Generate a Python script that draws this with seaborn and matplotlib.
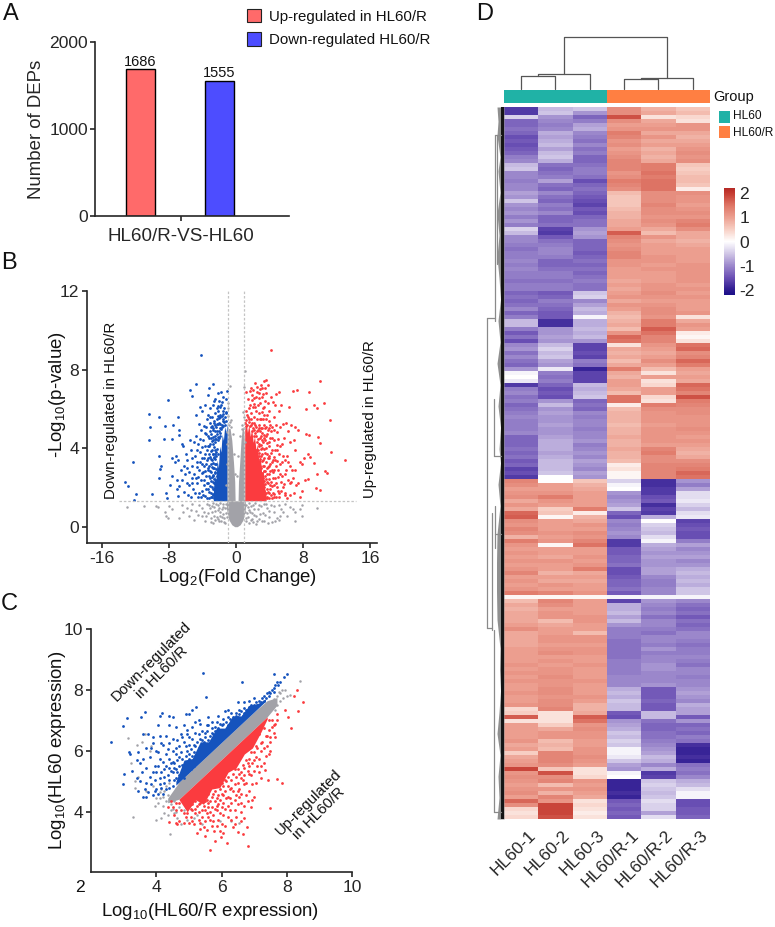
import numpy as np
import pandas as pd
import matplotlib
matplotlib.use("Agg")
import matplotlib.pyplot as plt
from matplotlib.colors import LinearSegmentedColormap, ListedColormap
from matplotlib.patches import Patch
from matplotlib.transforms import ScaledTranslation
import seaborn as sns

# ---------- panel A ----------
dep_groups = ["Up-regulated in HL60/R", "Down-regulated HL60/R"]
dep_counts = [1686, 1555]

# ---------- panel B: volcano, (log2 fold change, -log10 p) ----------
vol_down = [(-4.18,8.74),(-4.78,7.27),(-2.75,7.25),(-5.46,6.94),(-3.2,7.04),(-5.26,6.66),(-8.13,6.46),(-10.44,5.75),(-9.2,5.6),(-10.28,5.1),
(-8.45,5.12),(-7.49,5.2),(-6.9,5.56),(-10.36,4.4),(-8.65,4.45),(-7.65,4.45),(-6.8,4.9),(-6.8,4.68),(-12.3,3.3),(-9.2,3.6),(-13.3,2.3),(-12.87,2.07),
(-11.9,1.64),(-12.2,1.37),(-10.04,1.66),(-9.24,2.48),(-9.04,2.95),(-8.9,3.1),(-8.4,1.7),(-8.3,1.45),(-7.9,2.1),(-7.7,2.6),(-7.6,3.5),(-7.3,3.3),(-7.2,3.6),
(-7.1,2.4),(-7,1.9),(-6.9,3.4),(-6.8,2.05),(-6.6,2.9),(-6.4,4.2),(-6.3,4.1),(-6.2,3.1),(-6.1,2.7),(-6,3.7),(-5.9,2.2),(-5.8,3.4),(-5.7,1.6),(-5.6,2.8),(-5.5,4.4),
(-5.4,3.9),(-5.3,2.5),(-5.2,3.1),(-5.1,1.9),(-5,2.7),(-4.9,3.6),(-4.8,4.6),(-4.75,5.7),(-4.7,2.2),(-4.6,3.3),(-4.55,1.5),(-4.5,4.2),(-4.45,5.25),(-4.4,2.9),(-4.3,6.1),(-4.3,3.8),
(-4.2,2.4),(-4.15,4.9),(-4.1,3.5),(-4.05,1.8),(-4,5.9),(-3.95,2.8),(-3.9,4.4),(-3.85,3.1),(-3.8,2.1),(-3.8,5.15),(-3.75,6.2),(-3.7,3.7),(-3.65,1.55),(-3.6,4.7),(-3.55,2.6),(-3.5,3.4),
(-3.45,5.5),(-3.4,4.1),(-3.4,2.2),(-3.35,6.7),(-3.3,3),(-3.25,1.75),(-3.2,4.5),(-3.2,3.7),(-3.15,5.3),(-3.1,2.5),(-3.1,6.05),(-3.05,4.2),(-3,1.5),(-3,3.2),(-3,5.1),(-2.95,2.8),
(-2.95,4.7),(-2.9,3.9),(-2.9,2),(-2.85,5.6),(-2.85,3.4),(-2.8,6.2),(-2.8,4.4),(-2.8,1.65),(-2.75,2.6),(-2.75,3.7),(-2.7,5),(-2.7,3),(-2.7,4.2),(-2.65,6.4),(-2.65,2.2),(-2.6,5.4),(-2.6,3.5),(-2.6,1.45),
(-2.55,4.6),(-2.55,2.8),(-2.5,3.9),(-2.5,5.8),(-2.5,1.9),(-2.5,3.2),(-2.45,4.3),(-2.45,6.5),(-2.4,5.1),(-2.4,2.4),(-2.35,3.6),(-2.3,6.05),(-2.3,4.7),(-2.25,5.5),(-2.2,6.8),(-2.2,4.4),
(-2.1,5.9),(-2.05,6.4),(-2,5.3),(-1.95,4.6),(-1.9,6.1),(-1.85,5.7),(-1.8,6.85),(-1.7,5.2),(-1.65,6.35),(-1.6,5.9),(-1.55,5.5),(-1.5,6.6),(-1.4,6.05),(-1.3,5.6),(-1.25,6.5),(-1.15,5.8),(-1.1,6.9)]
vol_down_dense = [(-6.9,1.55),(-6.5,2.4),(-6.2,1.75),(-5.9,3),(-5.6,2.1),(-5.4,1.5),(-5.3,3.5),(-5.2,2.2),(-5,4.3),(-4.9,1.7),(-4.8,2.5),(-4.7,3.05),(-4.6,3.9),(-4.5,2.55),(-4.4,1.7),(-4.35,3.3),(-4.25,4.45),(-4.2,1.5),
(-4.1,2.75),(-4,3.2),(-4,4.05),(-3.9,1.6),(-3.85,2.4),(-3.8,3.5),(-3.75,4.75),(-3.7,2.85),(-3.65,4.1),(-3.6,1.9),(-3.6,3.2),(-3.55,5.1),(-3.5,2.25),(-3.5,3.9),(-3.45,1.45),(-3.4,2.9),(-3.4,4.6),(-3.35,3.5),(-3.3,1.9),(-3.3,5.7),
(-3.25,2.6),(-3.25,4.1),(-3.2,3.1),(-3.2,1.45),(-3.15,4.85),(-3.1,2.05),(-3.1,3.55),(-3.05,2.85),(-3.05,5.6),(-3,3.85),(-3,2.35),(-3,4.5),(-2.95,1.7),(-2.95,3.45),(-2.9,2.55),(-2.9,4.35),(-2.85,3.05),(-2.85,5.15),(-2.85,1.5),
(-2.8,3.7),(-2.8,2.3),(-2.8,4.9),(-2.75,1.9),(-2.75,3.25),(-2.7,2.65),(-2.7,4.55),(-2.7,1.6),(-2.65,3.55),(-2.65,5.3),(-2.6,2.45),(-2.6,4.05),(-2.6,3),(-2.55,1.75),(-2.55,4.85),(-2.55,3.7),(-2.5,2.2),(-2.5,2.75),(-2.5,4.45),
(-2.45,1.5),(-2.45,3.45),(-2.45,5.2),(-2.4,2.95),(-2.4,3.8),(-2.4,1.85),(-2.35,4.45),(-2.35,3.2),(-2.3,5.25),(-2.3,3.95),(-2.3,2.6),(-2.25,4.85),(-2.2,3.7),(-2.2,5.65),(-2.15,4.55),(-2.1,5.25),(-2.1,6.15),(-2.05,4.85),(-2,5.55),(-2,4.5),
(-1.95,5.05),(-1.9,5.6),(-1.9,4.75),(-1.85,5.25),(-1.8,6.2),(-1.75,4.95),(-1.7,5.65),(-1.65,5.1),(-1.6,5.4),(-1.5,5.15),(-1.5,5.75),(-1.4,5.35),(-1.3,5.2),(-1.25,5.85),(-1.15,5.4)]
vol_up = [(4.14,8.99),(10,7.42),(10.48,6.29),(9.36,6.18),(9.68,6.03),(8.69,6.87),(7.29,6.94),(6.81,6.89),(11.2,5.41),(8.37,5.98),(9.84,4.55),(10,4.27),(11.35,3.81),(13.03,3.38),
(8.6,3.7),(8.8,3.53),(9.28,3.25),(9.68,2.7),(10.6,2.83),(10.88,2.75),(9.6,1.95),(10,1.87),(8.57,2.45),(8.29,2.37),(8.4,4.7),(8.7,4.65),(8.1,3.5),(7.9,3.2),(7.6,3.3),(7.4,4.9),(7.1,5.1),(7,3.9),
(6.9,4.4),(6.8,2.5),(7.9,1.8),(7.7,1.5),(7.4,2.2),(7.1,2.9),(6.9,1.7),(6.6,5.2),(6.5,4.3),(6.5,3.1),(6.4,2.2),(6.3,6.1),(6.2,4.85),(6.1,3.6),(6,5.3),(5.9,2.7),(5.8,1.6),(5.7,4.5),(5.6,5.25),(5.5,3.3),
(5.4,6.2),(5.4,2.3),(5.3,4.1),(5.2,5.9),(5.1,3.7),(5.1,6.85),(5,1.8),(5,2.9),(4.9,4.8),(4.8,6.75),(4.8,5.2),(4.7,3.4),(4.7,6.2),(4.6,2.1),(4.6,4.4),(4.5,5.6),(4.5,1.5),(4.4,2.8),(4.4,6.35),(4.3,3.9),
(4.25,5.1),(4.2,6.6),(4.2,2.3),(4.1,4.5),(4.1,3.2),(4,1.7),(4,5.9),(3.95,2.7),(3.9,4.1),(3.9,5.4),(3.85,7.2),(3.8,3.5),(3.8,6.3),(3.75,1.5),(3.7,4.7),(3.7,2.3),(3.65,3),(3.6,5.1),(3.6,7.45),(3.55,4),
(3.5,6.4),(3.45,2.6),(3.4,3.5),(3.4,1.8),(3.35,5.7),(3.3,4.5),(3.3,7.4),(3.25,2.1),(3.2,3.1),(3.2,6.05),(3.15,5),(3.1,1.5),(3.1,4),(3.05,6.6),(3,2.6),(3,5.5),(3,3.6),(3,7.2),(2.95,4.6),(2.9,1.9),
(2.9,6.3),(2.85,3.1),(2.8,5.2),(2.8,4.1),(2.75,6.8),(2.7,2.3),(2.7,5.8),(2.7,3.6),(2.65,4.9),(2.6,1.6),(2.6,6.2),(2.6,2.9),(2.55,7.1),(2.5,5.5),(2.5,4.3),(2.45,3.4),(2.4,6.6),(2.4,5.9),(2.4,2.1),(2.35,3.9),
(2.3,5.2),(2.3,6.1),(2.25,7.3),(2.2,4.6),(2.2,6.55),(2.1,5.6),(2.05,6.95),(2,6.1),(1.95,5.3),(1.9,6.45),(1.85,7.05),(1.8,5.8),(1.7,6.2),(1.65,6.9),(1.6,5.5),(1.5,6.05),(1.45,6.5),(1.3,5.7),(1.25,6.85),(1.15,5.9),
(3.3,2),(3.5,1.45),(3.7,1.9),(4.3,1.45),(4.8,2.2),(5.2,1.5),(5.6,2),(6.1,1.45),(5.3,2.7),(4.1,2.1),(3.9,3.1),(4.4,3.4),(4.9,3.9),(5.5,4.2),(6.2,2.4),(5.9,3.4),(6.7,2.9),(7.2,2.1)]
vol_up_dense = [(2.5,1.4),(2.55,1.9),(2.6,2.4),(2.6,3.3),(2.65,3.9),(2.65,4.45),(2.7,1.75),(2.7,2.85),(2.7,4.2),(2.75,3.35),(2.75,5.05),(2.8,1.45),(2.8,2.5),(2.8,3.75),(2.85,4.5),(2.85,2),(2.85,5.5),(2.9,2.85),(2.9,3.45),(2.9,4.85),
(2.95,1.6),(2.95,2.3),(2.95,4.15),(3,3),(3,3.95),(3,5.05),(3,1.9),(3.05,2.75),(3.05,4.4),(3.05,5.85),(3.1,3.35),(3.1,2.15),(3.1,4.75),(3.15,1.75),(3.15,3.7),(3.2,2.5),(3.2,4.3),(3.2,5.5),(3.25,3.4),(3.25,1.45),
(3.3,2.85),(3.3,3.95),(3.3,5.2),(3.35,2.35),(3.35,4.65),(3.4,1.55),(3.4,3.1),(3.4,6.1),(3.45,3.75),(3.45,5.05),(3.5,2.15),(3.5,4.4),(3.5,2.85),(3.55,1.7),(3.55,5.5),(3.6,3.3),(3.6,2.45),(3.6,4.6),(3.65,1.45),(3.7,3.7),
(3.7,5.7),(3.75,2.7),(3.75,4.25),(3.8,1.75),(3.8,3.05),(3.85,4.9),(3.85,2.2),(3.9,3.6),(3.9,1.45),(3.95,5.05),(4,2.45),(4,3.5),(4,4.3),(4.05,1.9),(4.1,2.85),(4.1,5.2),(4.15,3.75),(4.2,1.6),(4.2,4.85),(4.25,2.9),
(4.3,2.05),(4.3,3.3),(4.35,4.5),(4.4,1.7),(4.45,2.5),(4.5,3.55),(4.5,4.9),(4.55,2.9),(4.6,1.65),(4.65,3.9),(4.7,2.5),(4.75,1.5),(4.8,3.1),(4.85,4.15),(4.9,2),(4.95,3.35),(5,4.45),(5.05,2.55),(5.15,1.7),(5.25,3.2),
(5.3,5.1),(5.4,1.8),(5.5,2.6),(5.6,3.6),(5.75,2.15),(5.9,1.7),(6,2.9),(6.2,3.3),(6.4,1.6),(6.6,2.3),(2.05,5.05),(2.15,5.3),(2.2,4.9),(2.3,4.75),(2.4,4.6),(2.4,5.1),(2.5,4.85),(1.95,4.85),(1.85,5.2),(1.75,5.5),
(1.65,5.15),(1.55,5.35),(1.45,5.6),(1.35,5.2),(1.25,5.45),(1.2,5.15),(1.1,5.3),(2.1,6.25),(2.5,6.85),(2.9,7.0),(3.1,7.05),(3.45,7.05),(1.95,6.7),(2.7,6.55),(3.25,6.75),(3.55,6.8)]
vol_ns = [(1.1,7.95),(-0.75,7.15),(0.9,7.1),(-1,6.3),(-0.95,6.05),(0.85,5.85),(-0.9,5.65),(1.0,5.6),(-0.6,5.45),(0.75,5.2),(-0.85,5.2),(0.95,5.05),
(-13.0,1.0),(-11.0,1.05),(-9.6,1.05),(-9.3,0.98),(-8.5,0.75),(-8.4,0.55),(-8.1,0.45),(-8,1.05),(-7.7,0.9),(-6.8,0.45),(-6.5,1.1),(-6.3,0.75),(-5.8,0.95),(-5.6,0.55),(-5.2,1.15),(-5,0.35),(-4.8,0.8),(-4.4,1.1),
(-4.1,0.55),(-4,0.95),(-3.7,0.3),(-3.5,1.15),(-3.3,0.7),(-3,0.45),(-2.9,1.05),(-2.7,0.2),(-2.5,0.8),(-2.3,0.5),(-2.1,1.1),(-2,0.3),(-1.9,0.75),(-1.7,0.5),(-1.5,1),(-1.4,0.25),(-1.2,0.7),
(1.2,0.45),(1.4,1),(1.5,0.2),(1.7,0.75),(1.9,0.4),(2,1.1),(2.2,0.6),(2.4,0.15),(2.6,0.9),(2.8,0.4),(3,1.05),(3.2,0.7),(3.4,0.3),(3.7,0.95),(3.9,0.5),(4.2,1.1),(4.3,0.25),(4.6,0.75),(4.9,0.45),(5.1,1.1),(5.2,0.35),(5.4,0.9),(5.8,1.15),
(6.1,0.55),(6.5,1),(6.8,0.9),(7,0.3),(7.1,0.75),(7.6,0.9),(7.9,0.55),(9.7,0.95),(7.9,1.1),(5.3,0.55),(3.6,1.15),(-2.6,0.55),(-3.8,0.75),(-5.4,0.85),
(-3.1,0.95),(-2.85,0.75),(-2.75,1.2),(-2.6,1.0),(-2.45,0.35),(-2.35,1.15),(-2.2,0.85),(-2.15,0.4),(-2,0.95),(-1.95,0.55),(-1.85,1.2),(-1.8,0.3),(-1.7,0.9),(-1.6,1.15),(-1.55,0.65),(-1.45,0.45),(-1.35,0.95),(-1.3,0.2),(-1.2,1.15),(-1.1,0.5),(-1.05,0.95),
(1.05,0.75),(1.15,1.1),(1.25,0.3),(1.35,0.7),(1.45,0.5),(1.55,1.2),(1.6,0.85),(1.75,0.35),(1.85,1.05),(1.95,0.7),(2.05,0.25),(2.15,0.9),(2.3,1.2),(2.45,0.55),(2.55,0.3),(2.7,1.1),(2.9,0.65),(3.1,0.3),(3.3,1.15),(3.5,0.6),(3.8,0.2),(4,0.8),
(-4.5,0.6),(-3.6,0.55),(-3.2,1.1),(-2.95,0.25),(4.5,1.05),(4.7,0.3),(5.6,0.75),(-1.15,2.1),(-1.12,3.2),(-1.1,4.2),(-1.05,4.8),(-0.4,4.7),(-0.25,3.7),(-0.1,2.7),(0.15,2.6),(0.3,3.6),(0.5,4.6),(1.05,4.3),(-0.55,5.1),(0.7,4.95),(-0.75,5.35)]
vol_up_core_x = [1.04, 1.2, 1.37, 1.54, 1.71, 1.88, 2.05, 2.22, 2.39, 2.56, 2.73, 2.9, 3.07, 3.24, 3.41, 3.6]
vol_up_core_top = [4.9, 5.4, 4.8, 5.2, 4.6, 5.0, 4.3, 4.6, 3.9, 4.2, 3.3, 3.6, 2.7, 2.9, 2.0, 1.6]
vol_down_core_x = [-2.7, -2.55, -2.4, -2.25, -2.1, -1.95, -1.8, -1.65, -1.5, -1.35, -1.2, -1.05]
vol_down_core_top = [1.9, 2.6, 2.3, 3.4, 3.0, 4.1, 3.8, 4.7, 4.4, 5.1, 4.8, 5.3]
vol_core_y = [0.0, 0.1, 0.35, 0.7, 1.0, 1.32]
vol_core_halfwidth = [0.15, 0.5, 0.85, 1.05, 1.15, 1.1]
vol_wing_y = [1.3, 2.3, 3.3, 4.4, 5.0]
vol_wing_left_outer = [-1.05, -1.08, -1.08, -1.05, -0.95]
vol_wing_left_inner = [-0.1, -0.15, -0.3, -0.5, -0.7]
vol_wing_right_inner = [0.25, 0.3, 0.45, 0.6, 0.75]
vol_wing_right_outer = [1.04, 1.04, 1.04, 1.0, 0.9]

# ---------- panel C: expression scatter, (HL60/R, HL60) ----------
ma_down = [(2.61,6.28),(2.98,6.81),(3.1,7.08),(3.53,7.1),(3.64,7.29),(4.17,7.26),(3,5.24),(2.97,4.9),(3.18,5.95),(3.2,5.9),(5.43,8.55),(5.53,7.77),(6.62,8.27),(7.61,8.51),(8,8.54),(7.93,8.42),(7.78,8.27),
(7.74,8.16),(7.61,8.05),(5.22,7.44),(5.1,7.35),(4.1,7.15),(4.4,7.15),(4.5,7.12),(4.9,7.2),(5,7.2),(4.05,6.85),(4.4,6.85),(4.6,6.8),(3.6,6.55),(3.75,6.55),(3.9,6.45),(4.1,6.5),(4.3,6.5),(4.85,6.85),(4.95,6.7),
(5.6,7.1),(5.7,6.95),(5.9,7.15),(6.1,7.3),(6.2,7.35),(6.5,7.6),(6.7,7.6),(6.85,7.65),(7,7.75),(7.3,7.8),(7.4,7.9),(7.45,7.8),(3.45,5.95),(3.5,5.6),(3.6,5.75),(3.7,5.45),(3.8,5.8),(3.85,6.1),(3.95,5.5),(4,6.0),(4.1,5.75),
(4.15,6.25),(4.25,5.4),(4.3,5.9),(4.4,6.25),(4.45,5.6),(4.5,6.0),(4.6,5.4),(4.65,6.35),(4.7,5.8),(4.75,6.55),(4.8,5.55),(4.9,6.15),(5,6.45),(5,5.9),(5.1,6.8),(5.15,6.2),(5.3,6.55),(5.35,6.9),(5.4,6.35),(5.5,6.6),(5.55,6.85),
(5.7,6.6),(5.8,6.8),(5.95,6.9),(6.05,7.05),(6.2,7.1),(6.3,7.25),(6.45,7.25),(6.55,7.35),(6.7,7.4),(6.85,7.45),(3.5,5.0),(3.6,4.5),(3.65,4.75),(3.75,4.65),(3.85,4.9),(3.9,4.55),(4,5.3),(4,4.75),(4.1,5.1),(4.2,4.6),(4.25,4.95),
(4.35,5.2),(4.4,4.8),(4.5,5.3),(4.55,5.05),(3.4,5.7),(3.25,5.35),(3.4,5.1),(3.45,4.7),(4.7,5.2),(4.9,5.35),(4.85,5.1),(3.7,6.1),(3.9,6.25),(4.05,5.95),(4.2,6.2),(4.45,5.35),(4.55,5.6),(4.8,5.25),(5.05,5.65),(5.2,5.85)]
ma_down_dense = [(4.3,4.75),(4.4,5.05),(4.5,4.85),(4.55,5.45),(4.6,5.1),(4.65,5.7),(4.7,5.5),(4.75,5.95),(4.75,5.15),(4.8,5.75),(4.85,5.4),(4.85,6.3),(4.9,5.6),(4.9,5.85),(4.95,5.3),(4.95,6),(5,5.5),(5,5.75),(5,6.2),(5.05,5.4),
(5.05,6.05),(5.1,5.6),(5.1,5.85),(5.1,6.4),(5.15,5.5),(5.15,5.95),(5.2,6.15),(5.2,6.6),(5.25,5.7),(5.25,6.3),(5.3,5.85),(5.3,6.1),(5.35,6.4),(5.35,5.75),(5.4,6.15),(5.4,6.65),(5.45,5.95),(5.45,6.3),(5.5,6.05),(5.5,6.45),
(5.55,6.2),(5.55,6.65),(5.6,6.35),(5.6,6.85),(5.65,6.15),(5.65,6.5),(5.7,6.75),(5.75,6.4),(5.75,6.55),(5.8,6.3),(5.8,6.65),(5.85,6.95),(5.9,6.5),(5.9,6.75),(5.95,6.6),(6,6.85),(6,6.65),(6.05,6.9),(6.1,6.7),(6.15,6.95),
(6.2,6.85),(6.25,7.05),(6.3,6.95),(6.35,7.1),(6.4,7.05),(6.45,7.15),(6.5,7.1),(6.55,7.2),(6.6,7.3),(6.65,7.15),(6.7,7.25),(6.75,7.35),(6.8,7.3),(6.85,7.4),(6.9,7.5),(6.95,7.4),(7,7.5),(7.05,7.6),(7.1,7.5),(7.15,7.65),
(7.2,7.6),(7.25,7.75),(7.3,7.65),(7.35,7.75),(7.45,7.95),(7.5,7.9),(7.55,8),(7.6,7.95),(7.65,8.15),(7.7,8.25),(3.55,5.3),(3.7,4.95),(3.8,5.15),(3.9,5.3),(3.95,5.05),(4.05,5.5),(4.1,4.9),(4.15,5.3),(4.2,5.65),(4.25,5.15),
(4.3,5.5),(4.35,6.05),(4.4,5.45),(4.4,5.75),(4.5,5.65),(4.6,5.9),(4.7,6.15),(4.6,6.1),(4.5,6.4),(4.8,6.45),(4.95,6.55),(5.2,6.95),(5.3,7.0),(4.65,5.3),(4.15,4.8),(4.05,4.6),(3.7,4.5),(3.95,4.7)]
ma_up = [(5.65,2.74),(6.82,2.89),(6.16,2.99),(5.99,3.17),(5.94,3.36),(5.76,3.37),(6.5,3.34),(6.65,3.29),(6.78,3.5),(7.49,4.14),(7.85,4.95),(7.69,5.09),(7.44,5.04),(7.34,5.37),(8.51,7.59),(8.31,8.0),(8.23,7.81),(8.33,7.31),(8.12,6.74),
(8.05,7.1),(7.95,7.35),(7.7,7.2),(7.65,6.9),(7.5,6.45),(7.35,5.85),(7.5,6),(7.2,5.1),(7,4.5),(6.9,4.15),(6.95,4.4),(6.7,3.8),(6.6,4.0),(6.5,4.25),(6.45,3.85),(6.3,3.75),(6.2,4.2),(6.1,3.55),(6.05,3.9),(5.9,3.75),
(5.8,4.1),(5.7,3.55),(5.55,3.95),(5.45,3.5),(5.3,3.75),(5.15,3.6),(5,3.65),(4.85,3.65),(4.7,3.7),(4.9,3.85),(5.2,3.95),(5.4,4.05),(4.4,3.68),(4.6,4.05),(4.5,4.15),(4.7,4.3),(4.9,4.15),(5.1,4.05),(5.3,4.25),(5.6,4.3),(5.85,4.45),
(6,4.6),(6.2,4.5),(6.3,4.8),(6.5,4.7),(6.6,5.1),(6.7,4.9),(6.85,5.25),(6.8,5.6),(7,5.7),(7.1,5.5),(7.2,6),(7.25,6.3),(7.4,6.5),(7.55,6.8),(7.6,6.6),(6.4,5.4),(6.15,5.0),(6.05,4.85),(5.75,4.6),(5.5,4.35),(6.9,5.95),(7.05,6.15),
(6.4,4.4),(6.55,4.5),(6.7,4.2),(6.85,4.7),(5.95,3.95),(6.25,4.05),(7.15,6.55),(7.3,6.75),(7.45,7.0),(6.95,6.35),(6.7,5.45),(6.55,5.25),(6.25,4.75),(5.85,4.2),(5.65,4.0),(5.25,4.45),(5.05,4.3),(6.35,3.5),(6.05,3.3),(5.8,3.05)]
ma_up_dense = [(4.75,4.05),(4.85,4.3),(4.95,3.95),(5,4.45),(5.05,4.1),(5.1,4.25),(5.15,4.5),(5.2,4.1),(5.2,4.35),(5.3,4.0),(5.3,4.55),(5.35,4.3),(5.4,4.45),(5.4,3.85),(5.45,4.2),(5.5,4.55),(5.5,4.05),(5.55,4.4),(5.6,4.15),(5.6,4.6),
(5.65,3.75),(5.65,4.35),(5.7,4.5),(5.7,4.15),(5.75,4.85),(5.75,3.9),(5.8,4.35),(5.8,4.7),(5.85,4.05),(5.85,4.9),(5.9,4.55),(5.9,4.25),(5.95,4.75),(5.95,4.4),(6,4.15),(6,4.95),(6.05,4.55),(6.05,4.3),(6.1,5.05),(6.1,4.7),
(6.1,4.1),(6.15,4.45),(6.2,4.85),(6.2,5.15),(6.25,4.45),(6.3,5.05),(6.3,4.3),(6.35,4.7),(6.35,5.25),(6.4,4.9),(6.45,5.15),(6.45,4.55),(6.5,5.4),(6.5,4.95),(6.55,4.75),(6.6,5.3),(6.6,4.6),(6.65,5.55),(6.65,5.05),(6.7,5.2),
(6.75,5.7),(6.75,4.95),(6.8,5.35),(6.85,5.75),(6.85,5.5),(6.9,5.2),(6.95,5.6),(7,5.95),(7,5.35),(7.05,5.8),(7.1,6.1),(7.15,5.75),(7.2,6.25),(7.2,5.5),(7.3,6.1),(7.35,6.5),(7.4,6.15),(7.45,6.7),(7.5,6.3),(7.55,7.0),
(7.6,6.85),(7.65,6.45),(7.7,7.0),(4.6,4.3),(4.55,3.9),(4.35,4.15),(4.45,4.35),(4.65,3.6),(4.85,3.95),(5.05,3.85),(5.1,3.7),(5.25,4.2),(5.35,3.65),(5.5,3.7),(5.6,3.85),(5.75,3.7),(5.55,3.4),(6,3.6),(6.2,3.85),(6.4,4.05),
(6.6,4.3),(6.8,4.35),(6.75,4.55),(7.05,4.95),(7.3,5.6),(7.15,5.3),(6.95,4.9),(7.45,5.9),(5.35,3.45),(6.6,3.7),(6.4,3.6),(5.85,3.55),(5.25,3.3),(5.5,3.2),(4.6,3.65)]
ma_ns = [(8.41,8.29),(3.29,3.83),(4.43,3.29),(3.13,6.43),(3.65,6.55),(3.4,6.2),(3.55,6.3),(3.85,6.15),(3.8,6.0),(3.22,5.62),(3.45,5.15),(3.35,5),(3.35,4.78),(3.7,4.7),(3.9,4.85),(4,4.45),(4.1,4.65),(4.2,4.2),(4.3,4.35),
(4.15,4.75),(4.25,3.95),(4.35,3.9),(4,3.75),(4.15,3.8),(4.55,3.95),(4.65,3.8),(4.75,3.6),(4.95,3.75),(5.15,3.8),(5.25,3.9),(5.95,3.7),(6.3,3.7),(4.6,4.0),(4.85,4.05),(5.4,3.6),(6.55,3.65),(7.85,8.0),(8,7.8),(7.75,7.95),(8.1,7.85),(7.5,7.6),
(4.05,4.3),(4.1,4.45),(4.2,4.5),(4.25,4.7),(4.3,4.85),(4.35,4.55),(4.4,4.95),(4.45,4.25),(4.5,4.5),(4.5,4.1),(4.55,4.35),(4.6,4.75),(4.65,4.5),(7.6,7.7),(7.7,7.8),(7.8,7.65),(7.9,7.75),(7.65,7.35),(7.55,7.4),(7.7,7.5),(7.4,7.2),(7.8,7.9),(7.95,8.0),(3.95,4.2),(4.45,4.05),(4.7,4.15)]
ma_x = [4.35, 4.7, 5.0, 5.5, 6.0, 6.5, 7.0, 7.4, 7.7]
ma_ns_low = [4.3, 4.42, 4.72, 5.22, 5.72, 6.22, 6.72, 7.12, 7.5]
ma_ns_high = [4.45, 4.98, 5.28, 5.78, 6.28, 6.78, 7.28, 7.65, 7.75]
ma_down_x = [4.6, 4.85, 5.1, 5.35, 5.6, 5.85, 6.1, 6.35, 6.6, 6.85, 7.1, 7.35]
ma_down_low = [4.88, 5.13, 5.38, 5.63, 5.88, 6.13, 6.38, 6.63, 6.88, 7.13, 7.38, 7.63]
ma_down_high = [5.0, 5.7, 5.75, 6.3, 6.3, 6.75, 6.75, 7.15, 7.15, 7.5, 7.55, 7.7]
ma_up_x = [4.7, 4.95, 5.2, 5.45, 5.7, 5.95, 6.2, 6.45, 6.7, 6.95, 7.2, 7.4]
ma_up_high = [4.42, 4.67, 4.92, 5.17, 5.42, 5.67, 5.92, 6.17, 6.42, 6.67, 6.92, 7.12]
ma_up_low = [4.4, 4.0, 4.4, 4.25, 4.75, 4.8, 5.3, 5.45, 5.9, 6.1, 6.6, 7.05]

# ---------- panel D: z-scored abundance, one list per heatmap band ----------
samples = ["HL60-1", "HL60-2", "HL60-3", "HL60/R-1", "HL60/R-2", "HL60/R-3"]
z_upper = [
[-1.7,-.6,-.5,1.2,.8,.6],[-1.7,-.5,-.9,1.2,.9,.7],[-.4,-.9,-1.3,1.8,.3,.4],[-1.3,-1.0,-1.1,1.2,.9,.3],[-1.3,-1.1,-.8,1.0,1.0,1.1],[-1.2,-1.0,-.7,1.1,1.1,1.1],
[-1.3,-.7,-1.0,1.4,.9,.9],[-1.5,-.8,-1.1,1.3,1.1,.8],[-1.4,-.7,-1.2,1.1,.9,.9],[-1.5,-.6,-1.0,1.2,1.0,1.0],[-1.4,-.8,-1.2,1.0,.8,1.1],[-1.3,-.6,-1.1,1.1,.9,1.2],
[-1.1,-.5,-1.3,1.2,.8,1.1],[-1.0,-.7,-1.3,1.3,.9,1.2],[-.6,-1.2,-1.2,1.3,1.4,.6],[-.5,-1.3,-1.1,1.3,1.4,.5],[-1.0,-1.2,-1.1,1.1,1.5,.6],[-1.0,-1.1,-1.2,1.2,1.4,.7],
[-1.1,-.8,-1.5,1.4,1.5,.7],[-1.0,-1.2,-1.3,1.3,1.5,.6],[-1.0,-1.3,-1.2,1.2,1.5,.2],[-.8,-1.0,-1.3,.7,1.2,1.2],[-.9,-1.2,-1.4,.6,1.2,1.1],[-.5,-1.3,-1.5,.6,1.2,1.1],
[-.9,-1.1,-1.6,.6,1.3,1.0],[-1.0,-1.2,-1.4,.7,1.2,1.1],[-.9,-1.0,-1.5,.8,1.2,1.2],[-1.1,-1.3,-1.3,.8,1.1,1.1],[-.9,-1.3,-1.2,.9,1.2,1.3],[-1.1,-1.2,-1.2,.9,1.1,1.4],
[-.4,-1.6,-.9,1.0,.9,1.2],[-.6,-1.7,-.8,1.7,.7,.9],[-1.0,-1.4,-.9,1.3,1.1,.9],[-1.0,-1.2,-1.3,1.2,.9,.8],[-1.1,-1.1,-1.3,1.1,1.0,.9],[-1.2,-1.0,-1.3,1.2,1.0,1.0],
[-1.1,-1.0,-1.4,1.3,1.0,1.0],[-1.1,-1.1,-1.3,1.3,1.1,1.0],[-1.0,-1.3,-1.2,1.1,1.1,1.0],[-1.1,-1.3,-1.3,1.1,1.0,1.1],[-1.0,-1.2,-1.2,1.0,1.1,1.1],[-1.1,-1.1,-1.3,1.0,1.0,1.1],
[-1.1,-1.1,-1.2,1.0,1.0,1.1],[-1.2,-1.2,-1.1,.9,1.0,1.1],[-1.1,-1.1,-1.2,1.0,1.1,1.0],[-1.1,-1.1,-1.2,.9,1.1,1.1],[-1.3,-1.4,-.5,1.0,1.2,1.0],[-1.2,-1.3,-.4,1.1,1.1,1.1],
[-1.3,-1.1,-1.0,.9,1.0,1.0],[-1.2,-1.2,-.8,1.1,1.1,1.0],[-1.0,-1.3,-.6,1.0,1.2,1.0],[-1.3,-1.4,-.7,.8,1.2,1.1],[-1.1,-1.4,-.1,.7,1.1,.3],[-.6,-1.8,-.7,.8,1.4,.9],
[-.6,-1.8,-.7,.9,1.4,1.1],[-1.1,-.9,-.6,.7,1.7,1.0],[-1.4,-.9,-.7,1.1,1.5,.2],[-1.2,-.8,-.6,1.6,1.3,.1],[-1.5,-.9,-.9,1.5,1.3,.3],[-1.0,-.6,-1.6,.3,1.1,1.5],
[-.9,-.4,-1.6,.9,1.0,1.6],[-1.2,-.6,-1.5,.8,.9,1.2],[-1.0,-.5,-1.6,.9,1.0,1.3],[-1.2,-.8,-1.1,.7,1.2,1.6],[-1.3,-.9,-1.2,.9,1.0,1.4],[-.9,-.2,-1.9,1.4,.7,1.0],
[-.1,-1.1,-1.6,.9,.3,.9],[0.0,-1.2,-1.6,.8,1.0,1.0],[-.2,-1.1,-1.6,1.0,.3,.9],[-1.7,-1.3,-.6,1.0,.4,1.6],[-1.1,-1.5,-.7,.9,1.0,1.5],[-1.0,-1.4,-.6,.7,1.0,1.3],
[-1.2,-1.5,-.5,1.5,.4,1.8],[-1.1,-.9,-1.3,1.5,.3,1.4],[-1.3,-.6,-1.2,.2,1.4,1.3],[-1.2,-.9,-1.3,.7,1.2,1.2],[-1.1,-.8,-1.0,.8,1.1,1.2],[-1.0,-.9,-1.1,.8,1.1,1.1],
[-1.1,-.9,-1.0,.8,1.1,1.1],[-1.1,-.8,-1.0,.7,1.0,1.1],[-1.1,-.9,-1.1,.8,1.1,1.2],[-1.0,-.9,-1.0,.8,1.1,1.1],[-1.3,-.8,-1.0,.9,1.1,1.0],[-1.3,-.7,-.9,.8,1.1,1.1],
[-1.3,-.7,-1.1,.8,1.0,1.0],[-1.2,-.7,-1.0,.9,1.3,.9],[-1.3,-.8,-.9,.8,1.4,.8],[-1.2,-.7,-1.0,.8,1.2,.9],[-1.4,-.6,-.8,.7,1.2,1.2],[-1.3,-.6,-.9,.2,1.3,1.3],
[-1.6,-.6,-1.0,.3,1.3,1.4],[-1.5,-.5,-.8,.1,1.3,1.6],[-1.7,0.0,-.9,.1,1.3,1.5]]
z_lower = [
[1.3,0.0,.6,-.4,-1.8,-.9],[1.2,1.0,.8,-.1,-1.8,-1.1],[1.0,1.0,.9,0.0,-1.7,-.8],[1.1,1.1,1.0,-.9,-1.7,-.3],[1.2,1.4,1.0,-1.0,-1.5,-.3],[.9,1.1,1.0,-.9,-1.4,-.2],
[1.1,1.0,1.0,-.8,-1.8,-.4],[.9,.5,1.4,-.5,-1.6,-.6],[1.6,.6,.2,-1.3,-1.7,-.3],[1.7,.1,.8,-1.5,-.7,-.2],[1.2,1.0,.9,-1.0,0.0,-1.6],[1.1,1.0,1.1,-1.1,-.4,-1.5],
[1.3,1.0,1.0,-1.0,-.5,-1.4],[1.2,1.1,1.2,-.9,-.6,-1.5],[.8,1.0,1.1,-1.0,-.3,-1.5],[1.4,1.1,1.3,-1.7,-.1,-1.1],[1.1,0.1,1.5,-1.7,-.7,-.8],[1.0,1.0,1.0,-1.4,-.8,-1.0],
[1.1,1.0,1.0,-1.4,-.9,-.9],[1.0,.9,1.1,-1.3,-.8,-.8],[1.1,1.1,1.0,-1.3,-.9,-1.0],[1.0,1.0,1.1,-1.2,-.9,-.9],[1.1,1.0,1.4,-1.5,-.8,-.7],[1.3,.8,.9,-1.5,-.8,-.6],
[1.0,1.0,1.0,-1.4,-1.0,-.7],[1.1,.9,.9,-1.3,-1.1,-.6],[1.0,1.1,1.0,-1.3,-1.1,-.7],[1.1,1.0,1.0,-1.2,-1.0,-.5],[1.4,1.3,1.1,-1.4,-1.0,-.5],[.1,.1,.1,-.1,-.1,-.1],
[.7,1.3,1.0,-1.6,-.9,-1.0],[.9,1.2,1.0,-.7,-1.0,-1.2],[.8,1.0,1.0,-.7,-1.1,-1.3],[.9,1.1,1.0,-.6,-1.0,-1.2],[.9,1.1,1.1,-.8,-1.2,-1.4],[.9,.7,1.1,-.6,-1.0,-1.2],
[1.0,.9,1.0,-.9,-1.0,-1.3],[1.2,1.0,1.0,-1.1,-1.1,-1.2],[.9,1.0,.7,-1.1,-1.2,-1.0],[.9,1.1,1.1,-1.1,-1.0,-1.0],[.9,1.1,1.1,-1.2,-1.0,-1.1],[.9,1.0,1.0,-1.2,-1.1,-1.2],
[1.0,1.1,1.1,-1.2,-.9,-1.1],[1.0,1.2,1.1,-1.2,-1.1,-1.1],[1.0,1.0,1.0,-1.2,-1.0,-1.0],[1.0,1.1,1.0,-1.1,-1.0,-1.1],[1.1,1.0,1.1,-1.1,-.9,-1.2],[1.0,1.1,1.0,-1.1,-.9,-1.0],
[1.1,1.1,1.0,-1.1,-1.0,-1.0],[1.0,1.2,1.0,-1.0,-1.0,-1.1],[1.1,1.1,1.1,-1.0,-1.0,-1.0],[1.0,1.1,1.0,-1.0,-.9,-1.0],[1.0,1.2,1.0,-.7,-1.4,-.9],[1.1,1.2,1.0,-.6,-1.4,-.8],
[1.0,1.1,1.1,-.7,-1.4,-.9],[1.0,1.2,1.0,-.5,-1.3,-1.0],[1.1,1.2,.8,-.6,-1.4,-.7],[.4,1.3,.8,-.6,-1.4,-.8],[.5,.3,.9,-1.4,-.6,-.8],[1.7,.3,1.7,-1.5,-.6,-1.4],
[.3,.3,1.5,-.9,-1.2,-.9],[1.0,.5,1.1,-.8,-1.3,-1.3],[1.0,.9,1.2,-.7,-1.3,-1.2],[1.0,1.1,1.1,-.5,-1.2,-1.3],[1.0,1.1,1.1,-.6,-1.2,-1.1],[1.1,.7,1.0,-.4,-1.1,-1.2],
[.9,.8,1.0,-.5,-1.0,-1.8],[1.0,.7,1.1,-.1,-.9,-1.9],[.5,1.3,1.1,-.1,-.8,-1.9],[.9,1.3,1.2,-.2,-.6,-1.8],[1.0,1.3,1.1,-.5,-.7,-1.9],[1.1,1.2,1.0,-.8,-1.0,-1.2],
[1.9,.6,.3,-.9,-.7,-1.1],[1.1,1.8,.3,-.1,-1.7,-1.2],[1.2,1.2,.4,0.0,-1.6,-1.0],[1.1,1.3,1.1,-1.9,-.5,-.7],[1.0,.7,1.0,-1.9,-.4,-.6],[1.1,1.1,1.1,-1.9,-.5,-.3],
[1.2,.8,1.0,-1.8,-.6,-.1],[1.0,1.3,.9,-1.9,-.5,-.1],[1.6,1.1,.3,-1.4,-.3,-1.5],[1.2,1.9,.4,-1.3,-.4,-1.5],[.4,1.9,.3,-1.4,-.4,-1.4],[.3,1.9,.2,-1.3,-.8,-1.4],[.4,1.8,.3,-1.4,-.3,-1.3]]
# column dendrogram: (left position, right position, height, left stem, right stem)
sample_tree = [(0.5, 1.5, 38, 38, 38), (1.0, 2.5, 44, 6, 44), (3.5, 4.5, 30, 30, 30),
               (4.0, 5.5, 33, 3, 33), (1.75, 4.75, 155, 111, 122)]
# row dendrogram: trunk depths and spans along the row axis
row_trunks = [(17, .296, .732), (9, .04, .30), (10.5, .41, .49), (9, .56, .62), (12, .57, .735), (10.5, .735, .99), (7.5, .04, .22)]
row_branches = [(.296, 9, 17), (.732, 12, 17), (.04, 3, 9), (.49, 3, 10.5), (.99, 3, 10.5), (.60, 3, 9)]
leaf_fringe_y = [0, .02, .04, .07, .09, .12, .15, .18, .21, .24, .27, .3, .33, .36, .39, .42, .45, .48, .5, .53, .56, .6, .64, .68, .72, .76, .79, .82, .85, .88, .91, .94, .97, 1]
leaf_fringe_depth = [7, 6, 7, 4, 6, 4, 7, 5, 7, 5, 3.5, 6, 4, 7, 4, 6, 3.5, 5, 3.5, 6, 4, 7, 7.5, 7.5, 7, 4, 4.5, 3.5, 5, 7, 4, 6, 5, 7]
legend_groups = ["HL60", "HL60/R"]
cbar_ticks = [-2, -1, 0, 1, 2]

RED, BLUE, GREY = "#fb3b3f", "#1553bd", "#a2a2a8"
BAR_RED, BAR_BLUE = "#ff6a6a", "#4d4dff"
W, H = 775, 927

sns.set_style("white")
plt.rcParams.update({
    "font.family": ["Liberation Sans", "DejaVu Sans"],
    "mathtext.default": "regular",
    "axes.unicode_minus": False,
    "axes.linewidth": 1.2,
    "xtick.major.width": 1.2,
    "ytick.major.width": 1.2,
    "xtick.major.size": 3.6,
    "ytick.major.size": 3.6,
    "xtick.bottom": True,
    "ytick.left": True,
    "text.color": "#111111",
})

fig = plt.figure(figsize=(W / 100, H / 100), dpi=100)


def px_axes(left, top, right, bottom):
    return fig.add_axes([left / W, 1 - bottom / H, (right - left) / W, (bottom - top) / H])


def px_text(x, y, s, **kw):
    kw.setdefault("ha", "center")
    kw.setdefault("va", "center")
    fig.text(x / W, 1 - y / H, s, **kw)


def cloud(ax, pairs, color, size):
    xy = np.array(pairs)
    sns.scatterplot(x=xy[:, 0], y=xy[:, 1], color=color, s=size, linewidth=0, ax=ax, legend=False, zorder=3)


# Panel A: counts of differentially expressed proteins
ax = px_axes(95, 42, 289, 216)
sns.barplot(x=dep_groups, y=dep_counts, hue=dep_groups, palette=[BAR_RED, BAR_BLUE], width=0.367, saturation=1,
            dodge=False, edgecolor="black", linewidth=1, legend=False, ax=ax)
for container in ax.containers:
    ax.bar_label(container, fontsize=10.5, padding=0.5)
ax.set_xlim(-0.576, 1.88)
ax.set_ylim(0, 2000)
ax.set_yticks([0, 1000, 2000])
ax.set_xticks([0.51])
ax.set_xticklabels(["HL60/R-VS-HL60"], fontsize=13.6)
ax.tick_params(axis="y", labelsize=12.6, pad=1.5)
ax.tick_params(axis="x", pad=5)
ax.set_ylabel("Number of DEPs", fontsize=13.4, labelpad=3)
sns.despine(ax=ax)
fig.legend(handles=[Patch(facecolor=BAR_RED, edgecolor="#222222", linewidth=0.8),
                    Patch(facecolor=BAR_BLUE, edgecolor="#222222", linewidth=0.8)],
           labels=dep_groups, loc="upper left", bbox_to_anchor=(247 / W, 1 - 9 / H), frameon=False,
           borderaxespad=0, borderpad=0, fontsize=10.8, handlelength=0.95, handleheight=1.0,
           handletextpad=0.5, labelspacing=0.55)

# Panel B: volcano plot
ax = px_axes(87, 291, 377, 543)
ax.set_xlim(-17.8, 16.85)
ax.set_ylim(-0.83, 12)
ax.fill_between(vol_up_core_x, 1.32, vol_up_core_top, color=RED, lw=0, zorder=2)
ax.fill_between(vol_down_core_x, 1.32, vol_down_core_top, color=BLUE, lw=0, zorder=2)
ax.fill_betweenx(vol_core_y, -np.array(vol_core_halfwidth), vol_core_halfwidth, color=GREY, lw=0, zorder=2)
ax.fill_betweenx(vol_wing_y, vol_wing_left_outer, vol_wing_left_inner, color=GREY, lw=0, zorder=2)
ax.fill_betweenx(vol_wing_y, vol_wing_right_inner, vol_wing_right_outer, color=GREY, lw=0, zorder=2)
cloud(ax, vol_ns, GREY, 3.2)
cloud(ax, vol_down + vol_down_dense, BLUE, 4)
cloud(ax, vol_up + vol_up_dense, RED, 4)
for v in (-1, 1):
    ax.axvline(v, color="#c4c4c4", lw=0.9, ls=(0, (2, 1.5)), zorder=4)
ax.plot([-14, 14.3], [1.3, 1.3], color="#c4c4c4", lw=0.9, ls=(0, (2, 1.5)), zorder=4)
ax.set_xticks([-16, -8, 0, 8, 16])
ax.set_yticks([0, 4, 8, 12])
ax.tick_params(labelsize=12.6, pad=2)
sns.despine(ax=ax)
px_text(237, 578, "Log$_{2}$(Fold Change)", fontsize=13.4)
px_text(57, 395, "-Log$_{10}$(p-value)", fontsize=13.4, rotation=90)
px_text(111, 410, "Down-regulated in HL60/R", fontsize=10.8, rotation=90)
px_text(370, 419, "Up-regulated in HL60/R", fontsize=10.8, rotation=90)

# Panel C: expression in the two lines
ax = px_axes(91, 629, 352, 872)
ax.set_xlim(2, 10)
ax.set_ylim(2.03, 10)
ax.fill_between(ma_x, ma_ns_low, ma_ns_high, color=GREY, lw=0, zorder=2)
ax.fill_between(ma_down_x, ma_down_low, ma_down_high, color=BLUE, lw=0, zorder=2)
ax.fill_between(ma_up_x, ma_up_low, ma_up_high, color=RED, lw=0, zorder=2)
cloud(ax, ma_ns, GREY, 3.2)
cloud(ax, ma_down + ma_down_dense, BLUE, 4)
cloud(ax, ma_up + ma_up_dense, RED, 4)
ax.set_xticks([4, 6, 8, 10])
ax.set_yticks([4, 6, 8, 10])
ax.tick_params(labelsize=12.6, pad=2)
sns.despine(ax=ax)
px_text(80, 888, "2", fontsize=12.6)
px_text(210, 912, "Log$_{10}$(HL60/R expression)", fontsize=13.4)
px_text(57, 750, "Log$_{10}$(HL60 expression)", fontsize=13.4, rotation=90)
px_text(157, 667, "Down-regulated\nin HL60/R", fontsize=10.8, rotation=45, linespacing=1.1)
px_text(314, 808, "Up-regulated\nin HL60/R", fontsize=10.8, rotation=45, linespacing=1.1)

# Panel D: clustered heatmap with its annotation bar, trees and colour key
heat_cmap = LinearSegmentedColormap.from_list(
    "navy_firebrick",
    [(0.0, "#1a0f88"), (0.045, "#2d1a90"), (0.16, "#6a4fb4"), (0.273, "#9c88cc"), (0.386, "#d0c6e6"),
     (0.5, "#ffffff"), (0.614, "#f7cfc4"), (0.727, "#ec9f90"), (0.84, "#de7565"), (0.955, "#c43a30"), (1.0, "#b52a26")])
abundance = pd.DataFrame(z_upper + z_lower, columns=samples)
ax = px_axes(504, 107, 710, 819)
sns.heatmap(abundance, cmap=heat_cmap, vmin=-2.2, vmax=2.2, cbar=False, xticklabels=True, yticklabels=False, ax=ax)
ax.set_xticks(np.arange(len(samples)) + 0.5)
ax.set_xticklabels(samples, rotation=45, ha="right", va="top", rotation_mode="anchor", fontsize=12.4)
ax.tick_params(axis="x", length=0, pad=6)
ax.tick_params(axis="y", left=False)
nudge = ScaledTranslation(7 / 100, 0, fig.dpi_scale_trans)
for label in ax.get_xticklabels():
    label.set_transform(label.get_transform() + nudge)

ax = px_axes(504, 90, 710, 103)
sns.heatmap([[0, 0, 0, 1, 1, 1]], cmap=ListedColormap(["#20b2a6", "#ff7f42"]), cbar=False,
            xticklabels=False, yticklabels=False, ax=ax)
ax.tick_params(left=False, bottom=False)
px_text(713, 97, "Group", fontsize=10.5, ha="left")

ax = px_axes(717, 109, 731, 139)
sns.heatmap([[0], [1]], cmap=ListedColormap(["#20b2a6", "#ff7f42"]), cbar=False, linewidths=0.8, linecolor="white",
            xticklabels=False, yticklabels=False, ax=ax)
ax.tick_params(left=False, bottom=False)
for name, y in zip(legend_groups, (116, 133)):
    px_text(733, y, name, fontsize=8.6, ha="left")

ax = px_axes(504, 37, 710, 89)
ax.set_xlim(0, 6)
ax.set_ylim(0, 155)
ax.axis("off")
for x0, x1, h, s0, s1 in sample_tree:
    ax.plot([x0, x0, x1, x1], [h - s0, h, h, h - s1], color="#555555", lw=0.9, clip_on=False)

ax = px_axes(485, 107, 504, 819)
ax.set_xlim(19, 0)
ax.set_ylim(1, 0)
ax.axis("off")
ax.fill_betweenx(leaf_fringe_y, 0, leaf_fringe_depth, color="#8f8f8f", lw=0)
ax.fill_betweenx([0, 1], 0, 2.6, color="#151515", lw=0)
for depth, y0, y1 in row_trunks:
    ax.plot([depth, depth], [y0, y1], color="#8a8a8a", lw=0.9)
for y, d0, d1 in row_branches:
    ax.plot([d0, d1], [y, y], color="#8a8a8a", lw=0.9)

cax = px_axes(724, 188, 735, 295)
probe = px_axes(0, 0, 1, 1)
sns.heatmap(abundance, cmap=heat_cmap, vmin=-2.2, vmax=2.2, cbar=True, cbar_ax=cax, ax=probe,
            cbar_kws={"ticks": cbar_ticks})
probe.remove()
cax.set_yticks(cbar_ticks)
cax.set_yticklabels([str(t) for t in cbar_ticks], fontsize=12.6)
cax.tick_params(axis="y", which="major", right=True, left=True, direction="in", color="white",
                length=2, width=0.8, pad=3)
for s in cax.spines.values():
    s.set_visible(False)

# Panel letters
for letter, x, y in (("A", 11, 14), ("B", 9, 263), ("C", 9, 604), ("D", 485, 14)):
    px_text(x, y, letter, fontsize=17)

fig.savefig("out.png", dpi=100)
